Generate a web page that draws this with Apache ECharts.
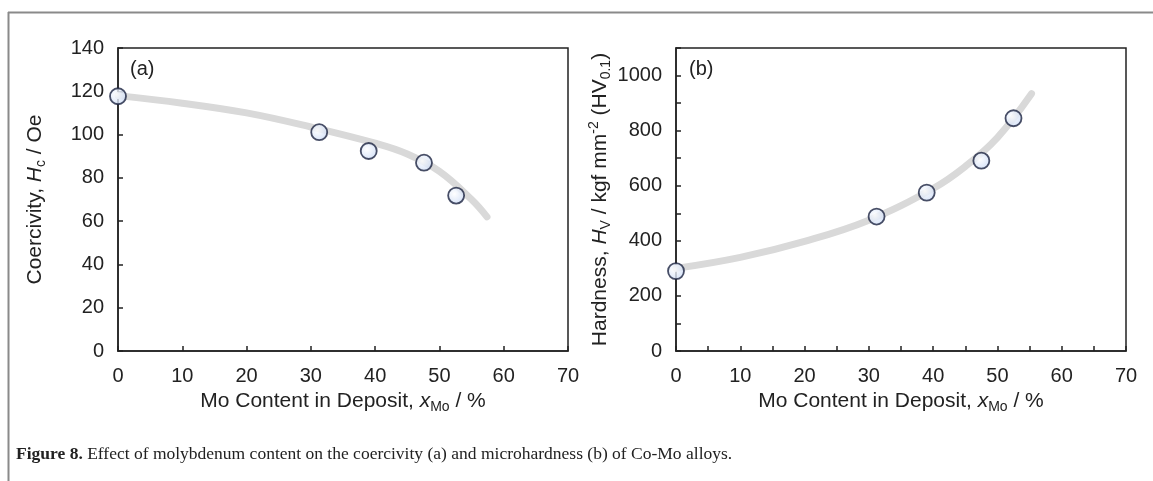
<!DOCTYPE html>
<html>
<head>
<meta charset="utf-8">
<script src="https://cdn.jsdelivr.net/npm/echarts@6/dist/echarts.min.js"></script>
<style>
html,body{margin:0;padding:0;background:#fff;}
#c{width:1153px;height:481px;}
</style>
</head>
<body>
<div id="c"></div>
<script>
// ---- data ----
const moContentA = [0, 31.3, 39.0, 47.6, 52.6];
const coercivity = [117.7, 101.1, 92.4, 87.0, 71.8];
const fitXA = [0, 10, 20, 30, 40, 45, 50, 55, 57.4];
const fitYA = [118, 114.5, 110, 103.5, 96, 91, 83, 70, 62];

const moContentB = [0, 31.2, 39.0, 47.5, 52.5];
const hardness = [290, 488, 575, 691, 845];
const fitXB = [0, 10, 20, 30, 40, 45, 50, 55.3];
const fitYB = [300, 340, 398, 475, 590, 670, 775, 934];

const panelLabels = ['(a)', '(b)'];
const captionBold = 'Figure 8.';
const captionText = ' Effect of molybdenum content on the coercivity (a) and microhardness (b) of Co-Mo alloys.';

const FONT = '"Liberation Sans", Arial, sans-serif';
const SERIF = '"Liberation Serif", "Times New Roman", serif';
const zip = (xs, ys) => xs.map((x, i) => [x, ys[i]]);

const richName = {
  n: {fontSize: 21, fontFamily: FONT, color: '#222', lineHeight: 26},
  i: {fontSize: 21, fontFamily: FONT, color: '#222', fontStyle: 'italic', lineHeight: 26},
  sub: {fontSize: 14, fontFamily: FONT, color: '#222', verticalAlign: 'bottom', lineHeight: 14},
  sup: {fontSize: 14, fontFamily: FONT, color: '#222', verticalAlign: 'top', lineHeight: 14}
};

const markerStyle = {
  color: {type: 'radial', x: 0.4, y: 0.4, r: 0.7,
    colorStops: [{offset: 0, color: '#ffffff'}, {offset: 1, color: '#c6d7f5'}]},
  borderColor: '#1c2340', borderWidth: 1.8
};

function xAxis(gi, minor) {
  return {
    type: 'value', gridIndex: gi, min: 0, max: 70, interval: 10,
    axisLine: {show: true, lineStyle: {color: '#222', width: 1.5}},
    axisTick: {show: true, inside: true, length: 5, lineStyle: {color: '#222', width: 1.5}},
    minorTick: {show: minor, splitNumber: 2, length: 5, lineStyle: {color: '#222', width: 1.5}},
    axisLabel: {fontSize: 20, fontFamily: FONT, color: '#222', margin: 15},
    splitLine: {show: false},
    name: '{n|Mo Content in Deposit, }{i|x}{sub|Mo}{n| / %}',
    nameLocation: 'middle', nameGap: 37,
    nameTextStyle: {rich: richName}
  };
}

function yAxis(gi, max, interval, minor, name, gap) {
  return {
    type: 'value', gridIndex: gi, min: 0, max: max, interval: interval,
    axisLine: {show: true, lineStyle: {color: '#222', width: 1.5}},
    axisTick: {show: true, inside: true, length: 5, lineStyle: {color: '#222', width: 1.5}},
    minorTick: {show: minor, splitNumber: 2, length: 5, lineStyle: {color: '#222', width: 1.5}},
    axisLabel: {fontSize: 20, fontFamily: FONT, color: '#222', margin: 14,
      showMaxLabel: max % interval === 0, formatter: v => String(v)},
    splitLine: {show: false},
    name: name, nameLocation: 'middle', nameGap: gap, nameRotate: 90,
    nameTextStyle: {rich: richName}
  };
}

const chart = echarts.init(document.getElementById('c'), null, {renderer: 'canvas'});
chart.setOption({
  animation: false,
  backgroundColor: '#fff',
  grid: [
    {left: 118, top: 48, width: 450, height: 303, show: true, borderColor: '#222', borderWidth: 1.5, backgroundColor: 'transparent'},
    {left: 676, top: 48, width: 450, height: 303, show: true, borderColor: '#222', borderWidth: 1.5, backgroundColor: 'transparent'}
  ],
  xAxis: [xAxis(0, false), xAxis(1, true)],
  yAxis: [
    yAxis(0, 140, 20, false, '{n|Coercivity, }{i|H}{sub|c}{n| / Oe}', 70),
    yAxis(1, 1100, 200, true, '{n|Hardness, }{i|H}{sub|V}{n| / kgf mm}{sup|-2}{n| (HV}{sub|0.1}{n|)}', 63)
  ],
  graphic: [
    {type: 'line', shape: {x1: 8.5, y1: 12, x2: 8.5, y2: 481}, style: {stroke: '#8a8a8a', lineWidth: 2}},
    {type: 'line', shape: {x1: 8, y1: 12.5, x2: 1153, y2: 12.5}, style: {stroke: '#8a8a8a', lineWidth: 2}},
    {type: 'text', left: 130, top: 59, style: {text: panelLabels[0], font: '20px ' + FONT, fill: '#222'}},
    {type: 'text', left: 689, top: 59, style: {text: panelLabels[1], font: '20px ' + FONT, fill: '#222'}},
    {type: 'text', left: 16, top: 445, style: {
      text: '{b|' + captionBold + '}{r|' + captionText + '}',
      rich: {
        b: {fontFamily: SERIF, fontWeight: 'bold', fontSize: 17.5, fill: '#222'},
        r: {fontFamily: SERIF, fontSize: 17.5, fill: '#222'}
      }
    }}
  ],
  series: [
    {type: 'line', xAxisIndex: 0, yAxisIndex: 0, data: zip(fitXA, fitYA), smooth: 0.4, showSymbol: false,
     lineStyle: {color: '#d9d9d9', width: 7, cap: 'round'}, z: 1, silent: true},
    {type: 'scatter', xAxisIndex: 0, yAxisIndex: 0, data: zip(moContentA, coercivity), symbolSize: 16,
     itemStyle: markerStyle, z: 3},
    {type: 'line', xAxisIndex: 1, yAxisIndex: 1, data: zip(fitXB, fitYB), smooth: 0.4, showSymbol: false,
     lineStyle: {color: '#d9d9d9', width: 7, cap: 'round'}, z: 1, silent: true},
    {type: 'scatter', xAxisIndex: 1, yAxisIndex: 1, data: zip(moContentB, hardness), symbolSize: 16,
     itemStyle: markerStyle, z: 3}
  ]
});
</script>
</body>
</html>
